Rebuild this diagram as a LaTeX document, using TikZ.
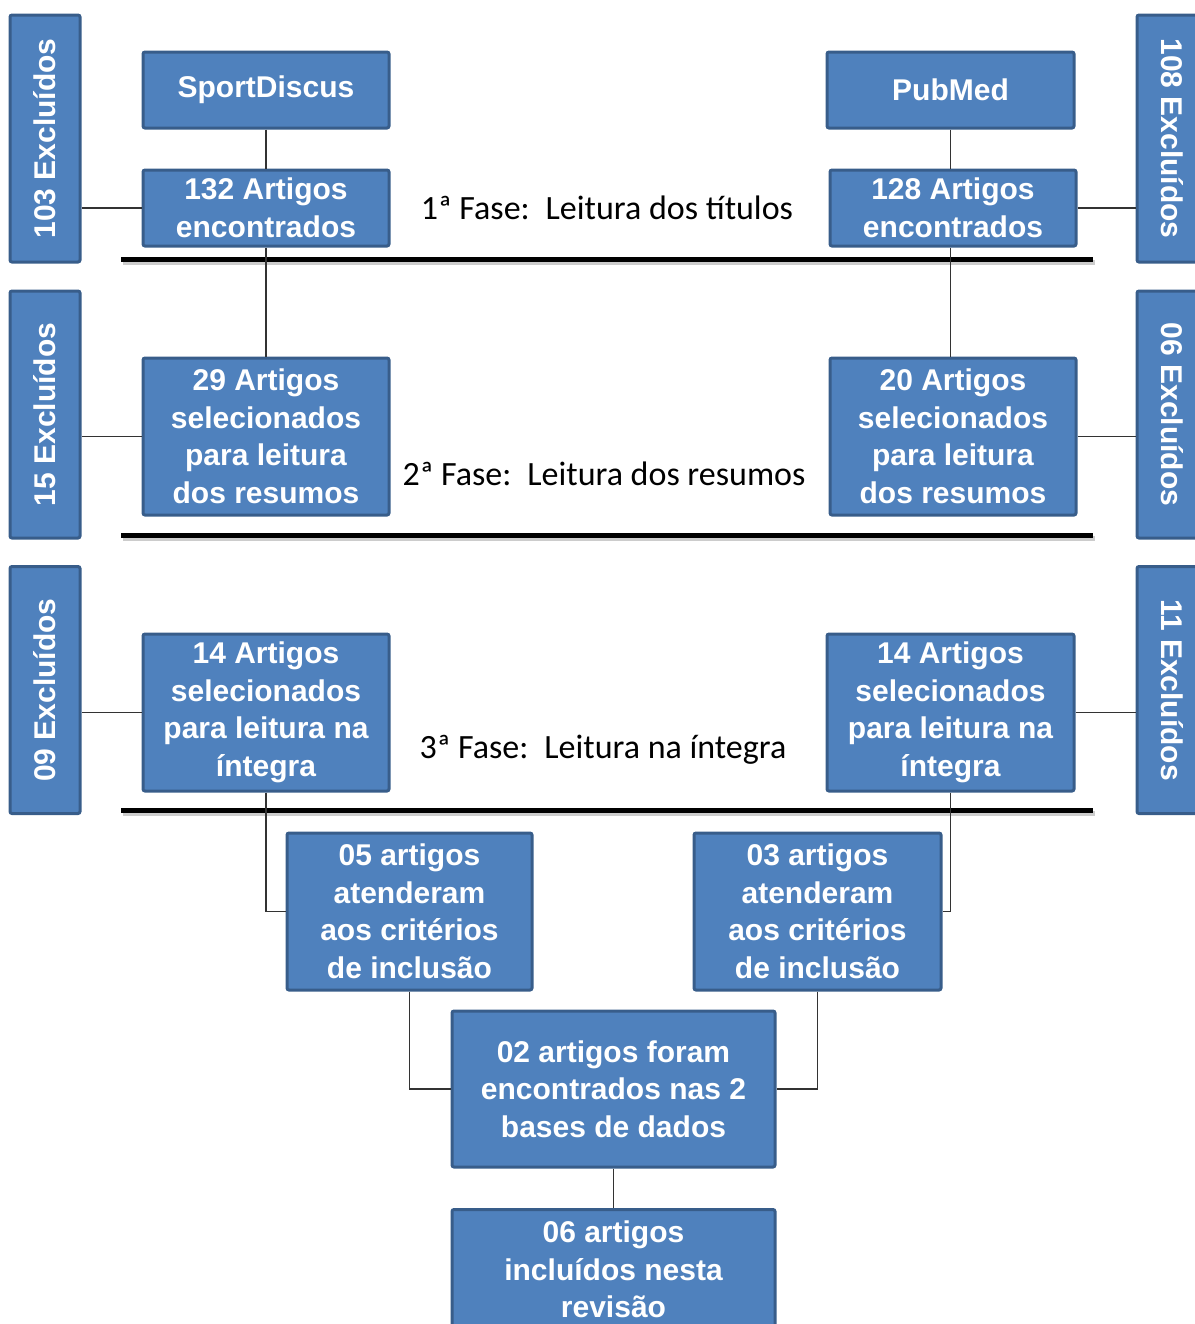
\documentclass[tikz,border=0pt]{standalone}
\usepackage{fontspec}
\setmainfont{Liberation Sans}
\newfontfamily\phasefont{Carlito}
\definecolor{boxfill}{HTML}{4F81BD}
\definecolor{boxline}{HTML}{385D8A}
\tikzset{
  box/.style={draw=boxline,fill=boxfill,line width=1.5pt,rounded corners=1pt,
    text=white,font=\bfseries\fontsize{15}{18.75}\selectfont,align=center,inner sep=0pt},
  excl/.style={box,minimum width=123.5pt,minimum height=35pt},
  link/.style={draw=black!80,line width=0.75pt},
  phase/.style={font=\phasefont\fontsize{17}{20}\selectfont},
}
\begin{document}
\begin{tikzpicture}[x=0.5pt,y=-0.5pt]
        \useasboundingbox (0,0) rectangle (1195,1324);
        %% Phase separators
        \foreach \y in {259,535,810} {
          \draw[gray!40,line width=2.5pt] (123,\y+3) -- (1095,\y+3);
          \draw[black,line width=2.5pt] (121,\y) -- (1093,\y);
        }
        %% Databases
        \node[box,minimum width=123pt,minimum height=38pt] (sport) at (266,90) {SportDiscus};
        \node[box,minimum width=123.5pt,minimum height=38pt] (pub) at (950.5,90) {PubMed};
        %% 1st phase
        \node[box,minimum width=123pt,minimum height=38pt] (found1) at (266,208) {132 Artigos\\encontrados};
        \node[box,minimum width=123pt,minimum height=38pt] (found2) at (953,208) {128 Artigos\\encontrados};
        \node[phase] (phase1) at (607,208) {1ª Fase:\, Leitura dos títulos};
        %% 2nd phase
        \node[box,minimum width=123pt,minimum height=78.5pt] (sel1) at (266,436.5) {29 Artigos\\selecionados\\para leitura\\dos resumos};
        \node[box,minimum width=123pt,minimum height=78.5pt] (sel2) at (953,436.5) {20 Artigos\\selecionados\\para leitura\\dos resumos};
        \node[phase] (phase2) at (604,474) {2ª Fase:\, Leitura dos resumos};
        %% 3rd phase
        \node[box,minimum width=123pt,minimum height=78.5pt] (int1) at (266,712.5) {14 Artigos\\selecionados\\para leitura na\\íntegra};
        \node[box,minimum width=123.5pt,minimum height=78.5pt] (int2) at (950.5,712.5) {14 Artigos\\selecionados\\para leitura na\\íntegra};
        \node[phase] (phase3) at (603,750) {3ª Fase:\, Leitura na íntegra};
        %% Excluded
        \node[excl,rotate=90] (ex1) at (45,138.5) {103 Excluídos};
        \node[excl,rotate=90] (ex2) at (45,414.5) {15 Excluídos};
        \node[excl,rotate=90] (ex3) at (45,690) {09 Excluídos};
        \node[excl,rotate=-90] (ex4) at (1172,138.5) {108 Excluídos};
        \node[excl,rotate=-90] (ex5) at (1172,414.5) {06 Excluídos};
        \node[excl,rotate=-90] (ex6) at (1172,690) {11 Excluídos};
        %% Inclusion
        \node[box,minimum width=122.5pt,minimum height=78.5pt] (incl1) at (409.5,911.5) {05 artigos\\atenderam\\aos critérios\\de inclusão};
        \node[box,minimum width=123.5pt,minimum height=78.5pt] (incl2) at (817.5,911.5) {03 artigos\\atenderam\\aos critérios\\de inclusão};
        \node[box,minimum width=161.5pt,minimum height=78pt] (both) at (613.5,1089) {02 artigos foram\\encontrados nas 2\\bases de dados};
        \node[box,minimum width=161.5pt,minimum height=60pt,anchor=north] (final) at (613.5,1208) {06 artigos\\incluídos nesta\\revisão};
        %% Connectors
        \draw[link] (sport) -- (found1);
        \draw[link] (found1) -- (sel1);
        \draw[link] (pub.south) -- (pub.south |- found2.north);
        \draw[link] (pub.south |- found2.south) -- (pub.south |- sel2.north);
        \draw[link] (found1.west) -- (found1.west -| ex1.south);
        \draw[link] (sel1.west) -- (sel1.west -| ex2.south);
        \draw[link] (int1.west) -- (int1.west -| ex3.south);
        \draw[link] (found2.east) -- (found2.east -| ex4.south);
        \draw[link] (sel2.east) -- (sel2.east -| ex5.south);
        \draw[link] (int2.east) -- (int2.east -| ex6.south);
        \draw[link] (int1.south) |- (incl1.west);
        \draw[link] (int2.south) |- (incl2.east);
        \draw[link] (incl1.south) |- (both.west);
        \draw[link] (incl2.south) |- (both.east);
        \draw[link] (both) -- (final);
\end{tikzpicture}
\end{document}
